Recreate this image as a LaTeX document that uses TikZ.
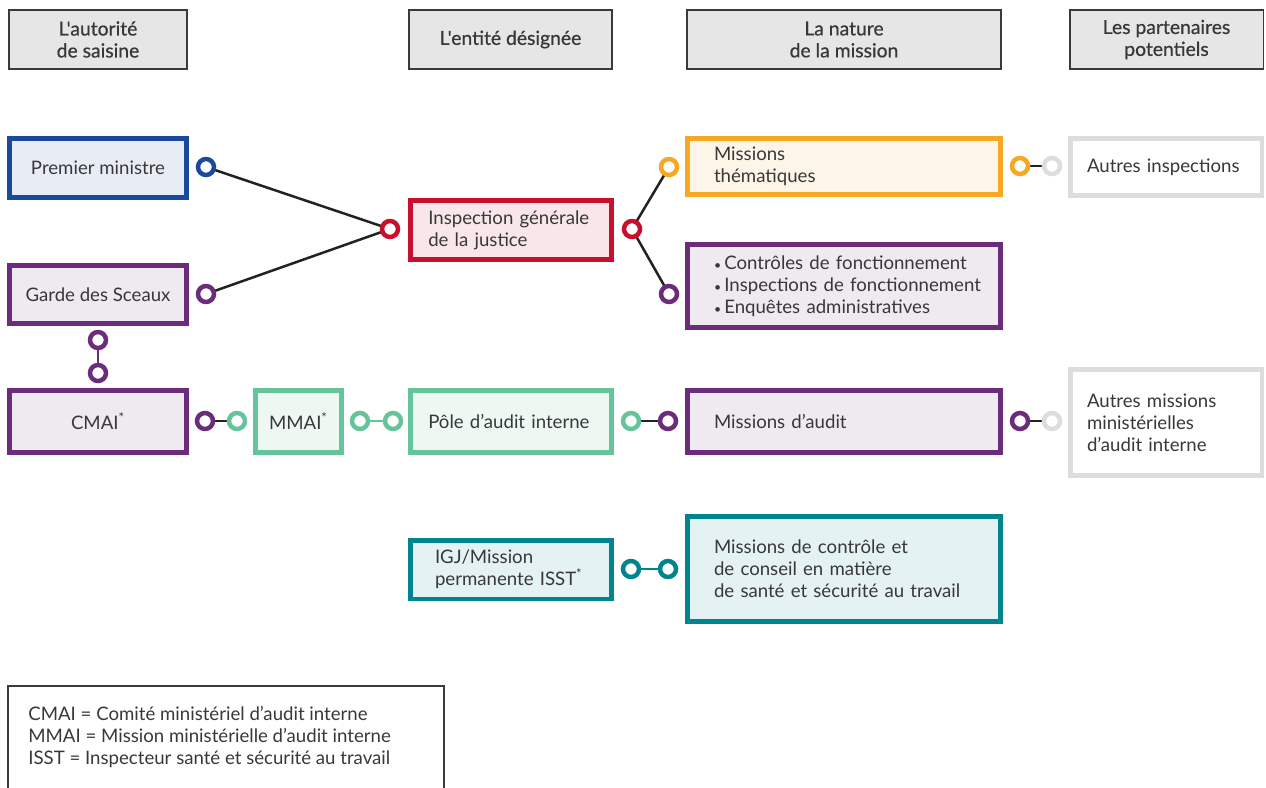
\documentclass[tikz,border=0pt]{standalone}
\usepackage{fontspec}
\setmainfont{Lato}
\newfontfamily\headfont[FakeBold=0.6]{Lato}
\usepackage{xcolor}
\usetikzlibrary{positioning,backgrounds}
\definecolor{txtgray}{HTML}{383838}
\definecolor{headfill}{HTML}{E6E6E6}
\definecolor{headline}{HTML}{3A3A3A}
\definecolor{pmblue}{HTML}{1B4A9C}
\definecolor{pmfill}{HTML}{E8ECF5}
\definecolor{gspurple}{HTML}{6B2D7B}
\definecolor{gsfill}{HTML}{EFE9F0}
\definecolor{igjred}{HTML}{C8102E}
\definecolor{igjfill}{HTML}{F9E6E9}
\definecolor{thorange}{HTML}{F7A823}
\definecolor{thfill}{HTML}{FDF5E8}
\definecolor{audgreen}{HTML}{66C49A}
\definecolor{audfill}{HTML}{EEF8F3}
\definecolor{isstteal}{HTML}{00858F}
\definecolor{isstfill}{HTML}{E4F2F3}
\definecolor{partgray}{HTML}{DCDDDE}
\definecolor{linkblack}{HTML}{222222}

\begin{document}
\begin{tikzpicture}[
    x=0.02cm, y=-0.02cm,
    head/.style={rectangle, draw=headline, fill=headfill, line width=0.03cm, align=center, font=\headfont\fontsize{11}{12.5}\selectfont, text=txtgray, inner sep=0pt},
    entity/.style={rectangle, line width=0.09cm, font=\fontsize{10.6}{12.5}\selectfont, text=txtgray},
    padl/.style={align=left, inner xsep=#1},
    dot/.style={circle, draw=#1, fill=white, line width=0.09cm, minimum size=0.32cm, inner sep=0pt},
    link/.style={line width=0.05cm, draw=linkblack}
]
    \useasboundingbox (0,0) rectangle (1266,787);

    % Column headers
    \node[head, minimum width=3.57cm, minimum height=1.19cm] (h1) at (98,39.5) {L'autorité\\de saisine};
    \node[head, minimum width=4.07cm, minimum height=1.19cm] (h2) at (510.5,39.5) {L'entité désignée};
    \node[head, minimum width=6.29cm, minimum height=1.19cm] (h3) at (844,39.5) {La nature\\de la mission};
    \node[head, minimum width=3.87cm, minimum height=1.19cm] (h4) at (1166.5,39.5) {Les partenaires\\potentiels};

    % Authorities
    \node[entity, draw=pmblue, fill=pmfill, minimum width=3.55cm, minimum height=1.19cm] (pm) at (98,168) {Premier ministre};
    \node[entity, draw=gspurple, fill=gsfill, minimum width=3.55cm, minimum height=1.17cm] (gs) at (98,294.5) {Garde des Sceaux};
    \node[entity, draw=gspurple, fill=gsfill, minimum width=3.55cm, minimum height=1.25cm] (cmai) at (98,421.5) {CMAI\textsuperscript{*}};
    \node[entity, draw=audgreen, fill=audfill, minimum width=1.73cm, minimum height=1.25cm] (mmai) at (298.5,421.5) {MMAI\textsuperscript{*}};

    % Designated entities
    \node[entity, padl=0.36cm, draw=igjred, fill=igjfill, text width=3.31cm, minimum height=1.19cm] (igj) at (511,230) {Inspection générale\\de la justice};
    \node[entity, padl=0.36cm, draw=audgreen, fill=audfill, text width=3.31cm, minimum height=1.25cm] (pole) at (511,421.5) {Pôle d'audit interne};
    \node[entity, padl=0.495cm, draw=isstteal, fill=isstfill, text width=3.04cm, minimum height=1.17cm] (isst) at (511,569.5) {IGJ/Mission\\permanente ISST\textsuperscript{*}};

    % Missions
    \node[entity, padl=0.535cm, draw=thorange, fill=thfill, text width=5.2cm, minimum height=1.13cm] (them) at (844,166.5) {Missions\\thématiques};
    \node[entity, padl=0.535cm, draw=gspurple, fill=gsfill, text width=5.2cm, minimum height=1.67cm] (ctrl) at (844,286) {\mbox{{\scriptsize\textbullet}\,Contrôles de fonctionnement}\\\mbox{{\scriptsize\textbullet}\,Inspections de fonctionnement}\\\mbox{{\scriptsize\textbullet}\,Enquêtes administratives}};
    \node[entity, padl=0.535cm, draw=gspurple, fill=gsfill, text width=5.2cm, minimum height=1.25cm] (audit) at (844,421.5) {Missions d'audit};
    \node[entity, padl=0.535cm, draw=isstteal, fill=isstfill, text width=5.2cm, minimum height=2.11cm] (sante) at (844,569) {Missions de contrôle et\\de conseil en matière\\de santé et sécurité au travail};

    % Partners
    \node[entity, padl=0.335cm, draw=partgray, fill=white, text width=3.16cm, minimum height=1.15cm] (autinsp) at (1166,167) {Autres inspections};
    \node[entity, padl=0.335cm, draw=partgray, fill=white, text width=3.16cm, minimum height=2.13cm] (autmiss) at (1166,422.5) {Autres missions\\ministérielles\\d'audit interne};

    % Connector dots
    \node[dot=pmblue] (d-pm) at (206,167) {};
    \node[dot=gspurple] (d-gs) at (206,294) {};
    \node[dot=igjred] (d-igjl) at (390,229) {};
    \node[dot=igjred] (d-igjr) at (632,229) {};
    \node[dot=thorange] (d-them) at (669,167) {};
    \node[dot=gspurple] (d-ctrl) at (669,294) {};
    \node[dot=thorange] (d-themr) at (1020,166) {};
    \node[dot=partgray] (d-autinsp) at (1052,166) {};
    \node[dot=gspurple] (d-gsb) at (98,340) {};
    \node[dot=gspurple] (d-cmait) at (98,373) {};
    \node[dot=gspurple] (d-cmair) at (205,421) {};
    \node[dot=audgreen] (d-mmail) at (237,421) {};
    \node[dot=audgreen] (d-mmair) at (360,421) {};
    \node[dot=audgreen] (d-polel) at (393,421) {};
    \node[dot=audgreen] (d-poler) at (631,421) {};
    \node[dot=gspurple] (d-auditl) at (668,421) {};
    \node[dot=gspurple] (d-auditr) at (1020,421) {};
    \node[dot=partgray] (d-autmiss) at (1052,421) {};
    \node[dot=isstteal] (d-isst) at (631,569) {};
    \node[dot=isstteal] (d-sante) at (668,569) {};

    % Links
    \begin{scope}[on background layer]
        \draw[link] (d-pm.center) -- (d-igjl.center);
        \draw[link] (d-gs.center) -- (d-igjl.center);
        \draw[link] (d-igjr.center) -- (d-them.center);
        \draw[link] (d-igjr.center) -- (d-ctrl.center);
        \draw[link] (d-themr.center) -- (d-autinsp.center);
        \draw[link, gspurple] (d-gsb.center) -- (d-cmait.center);
        \draw[link] (d-cmair.center) -- (d-mmail.center);
        \draw[link, audgreen] (d-mmair.center) -- (d-polel.center);
        \draw[link] (d-poler.center) -- (d-auditl.center);
        \draw[link] (d-auditr.center) -- (d-autmiss.center);
        \draw[link, isstteal] (d-isst.center) -- (d-sante.center);
    \end{scope}

    % Legend
    \draw[headline, line width=0.05cm] (8,800) -- (8,686) -- (444,686) -- (444,800);
    \node[anchor=west, align=left, inner sep=0pt, text=txtgray, font=\fontsize{10.6}{12.5}\selectfont] (legend) at (28,737) {CMAI = Comité ministériel d'audit interne\\MMAI = Mission ministérielle d'audit interne\\ISST = Inspecteur santé et sécurité au travail};
\end{tikzpicture}
\end{document}
